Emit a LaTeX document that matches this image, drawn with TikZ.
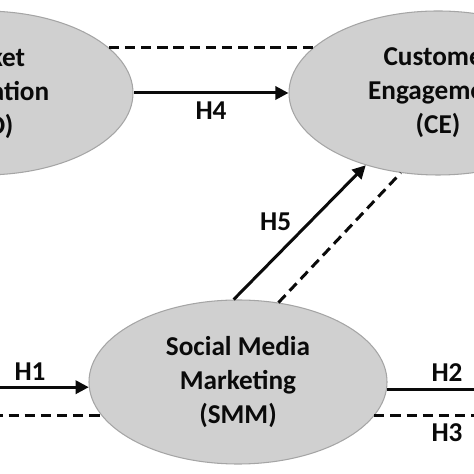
\documentclass[tikz,border=0pt]{standalone}
\usepackage{fontspec}
\setmainfont{Carlito}
\usetikzlibrary{arrows.meta,shapes.geometric}
\definecolor{BubbleFill}{RGB}{208,208,208}
\definecolor{BubbleEdge}{RGB}{165,165,165}
\definecolor{PathInk}{RGB}{10,10,10}
\tikzset{
  model/.style={font=\bfseries\fontsize{15.5}{19.3}\selectfont,text=PathInk},
  construct/.style={ellipse,draw=BubbleEdge,fill=BubbleFill,line width=0.6pt,
    minimum width=5.96cm,minimum height=3.28cm,inner sep=0pt,align=center},
  effect/.style={line width=1.7pt,draw=PathInk,-{Triangle[length=7.5pt,width=7.5pt]}},
  control/.style={line width=1.7pt,draw=PathInk,dash pattern=on 5.8pt off 3.4pt},
  hlabel/.style={inner sep=1pt},
}
\begin{document}
\begin{tikzpicture}[model]
  \useasboundingbox (0,0) rectangle (9.48,9.48);
  \clip (0,0) rectangle (9.48,9.48);

  % constructs
  \node[construct] (MO) at (-0.32,7.62) {Market\\Orientation\\(MO)};
  \node[construct] (CE) at (8.76,7.62) {Customer\\Engagement\\(CE)};
  \node[construct] (SMM) at (4.76,1.84) {Social Media\\Marketing\\(SMM)};

  % free ends outside the frame
  \coordinate (westin) at (-0.8,0);
  \coordinate (eastout) at (10.4,0);

  % paths
  \draw[control] (MO.20) -- (CE.160);
  \draw[effect] (MO.east) -- node[hlabel,below=3pt] (h4) {H4} (CE.west);
  \draw[effect] (SMM.93) -- node[hlabel,midway,left=3pt,yshift=6pt] (h5) {H5} (CE.225);
  \draw[control] (SMM.63) -- (CE.245);
  \draw[effect] (westin |- SMM.182) -- (SMM.182);
  \draw[control] (westin |- SMM.194) -- (SMM.194);
  \draw[effect] (SMM.357) -- (SMM.357 -| eastout);
  \draw[control] (SMM.346) -- (SMM.346 -| eastout);

  \node[hlabel] (h1) at (0.6,2.04) {H1};
  \node[hlabel] (h2) at (8.94,2.02) {H2};
  \node[hlabel] (h3) at (8.94,0.82) {H3};
\end{tikzpicture}
\end{document}
